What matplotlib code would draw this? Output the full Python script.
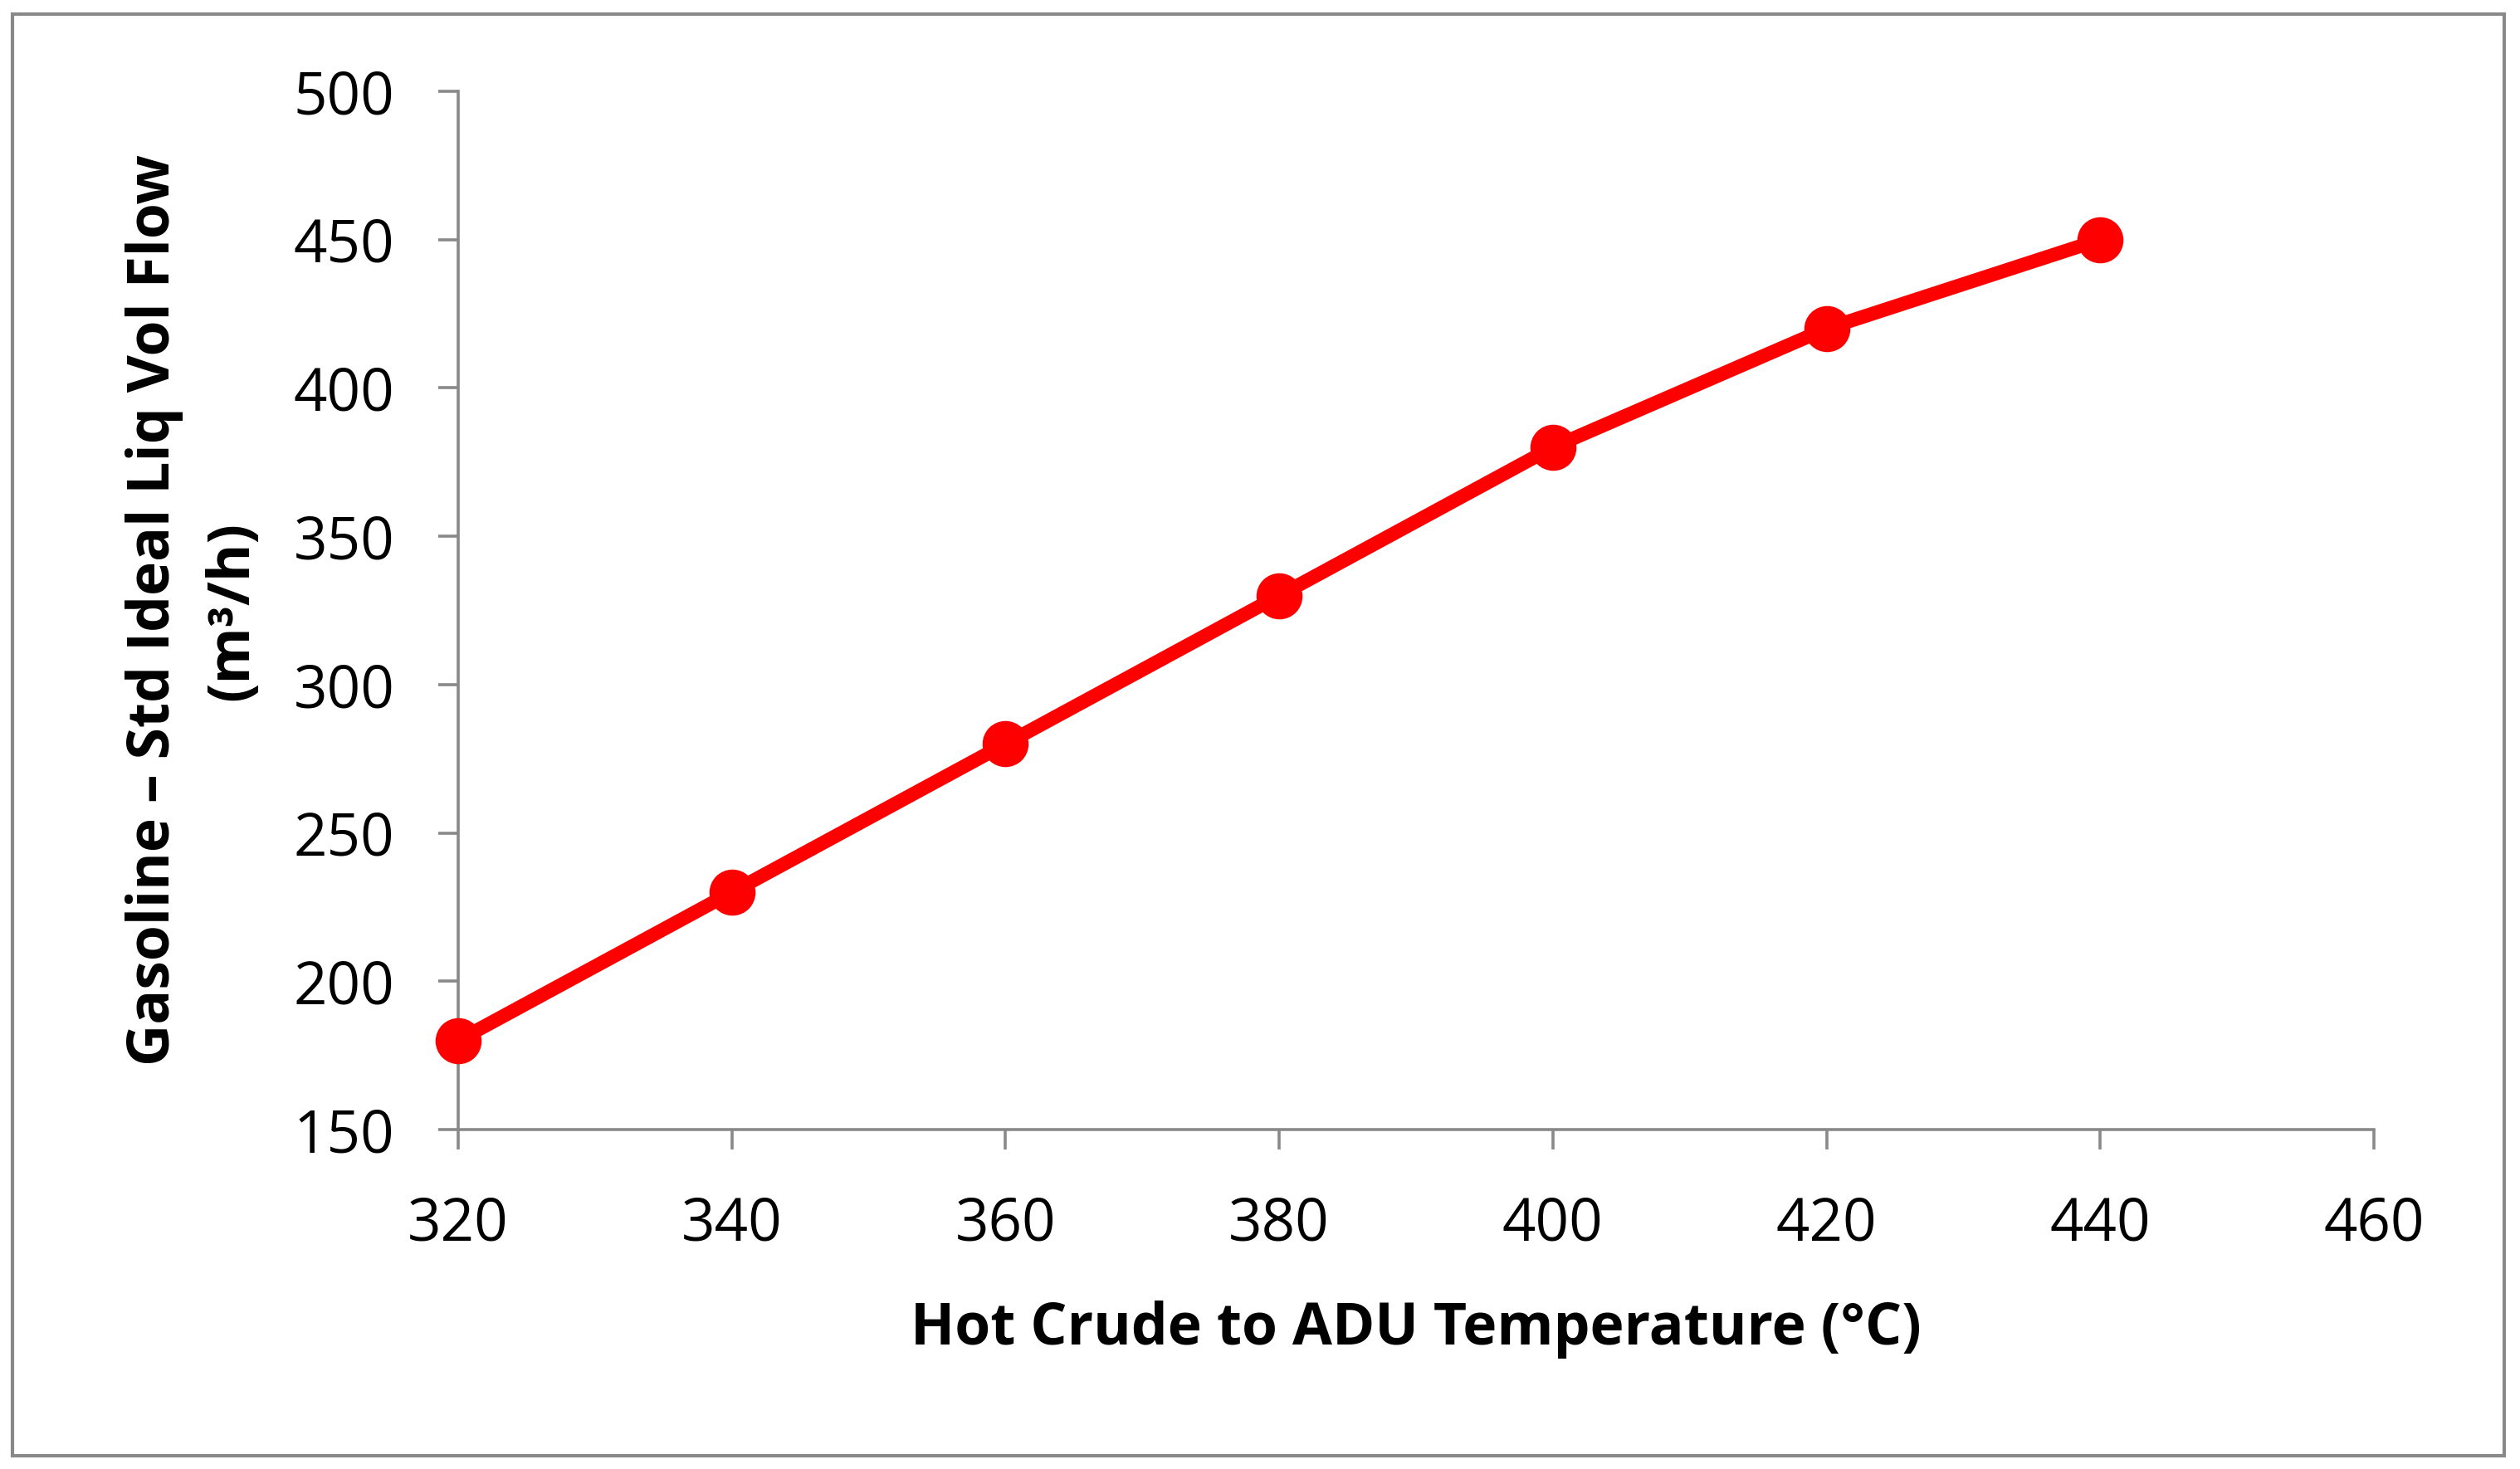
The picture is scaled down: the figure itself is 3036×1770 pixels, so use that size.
import matplotlib
matplotlib.use("Agg")
import matplotlib.pyplot as plt
from matplotlib.patches import Rectangle

plt.rcParams['font.family'] = ['Open Sans', 'DejaVu Sans']

temperature = [320, 340, 360, 380, 400, 420, 440]
gasoline_flow = [180, 230, 280, 330, 380, 420, 450]
x_ticks = [320, 340, 360, 380, 400, 420, 440, 460]
y_ticks = [150, 200, 250, 300, 350, 400, 450, 500]

grey = '#898989'
W, H = 3036, 1770
dpi = 200
fig = plt.figure(figsize=(W / dpi, H / dpi), dpi=dpi)

# outer chart frame
fig.patches.append(Rectangle((15 / W, 1 - 1754 / H), (3017 - 15) / W, (1754 - 17) / H,
                             transform=fig.transFigure, fill=False, edgecolor=grey,
                             linewidth=1.5))

ax = fig.add_axes([552 / W, 1 - 1361 / H, (2860 - 552) / W, (1361 - 110) / H])
ax.plot(temperature, gasoline_flow, color='#FF0000', linewidth=6,
        marker='o', markersize=19, solid_capstyle='round', clip_on=False, zorder=3)

ax.set_xlim(320, 460)
ax.set_ylim(150, 500)
ax.set_xticks(x_ticks)
ax.set_yticks(y_ticks)
for s in ['top', 'right']:
    ax.spines[s].set_visible(False)
for s in ['left', 'bottom']:
    ax.spines[s].set_color(grey)
    ax.spines[s].set_linewidth(1.3)
ax.tick_params(axis='both', direction='out', length=8.5, width=1.3, color=grey,
               labelsize=25.5, labelcolor='black')
ax.tick_params(axis='x', pad=20)
ax.tick_params(axis='y', pad=19)

ax.set_xlabel('Hot Crude to ADU Temperature (°C)', fontsize=25, fontweight='bold',
              labelpad=20)
ax.set_ylabel('Gasoline – Std Ideal Liq Vol Flow\n(m³/h)', fontsize=25,
              fontweight='bold', labelpad=14, linespacing=1.45)

fig.savefig('out.png', dpi=dpi, facecolor='white')
